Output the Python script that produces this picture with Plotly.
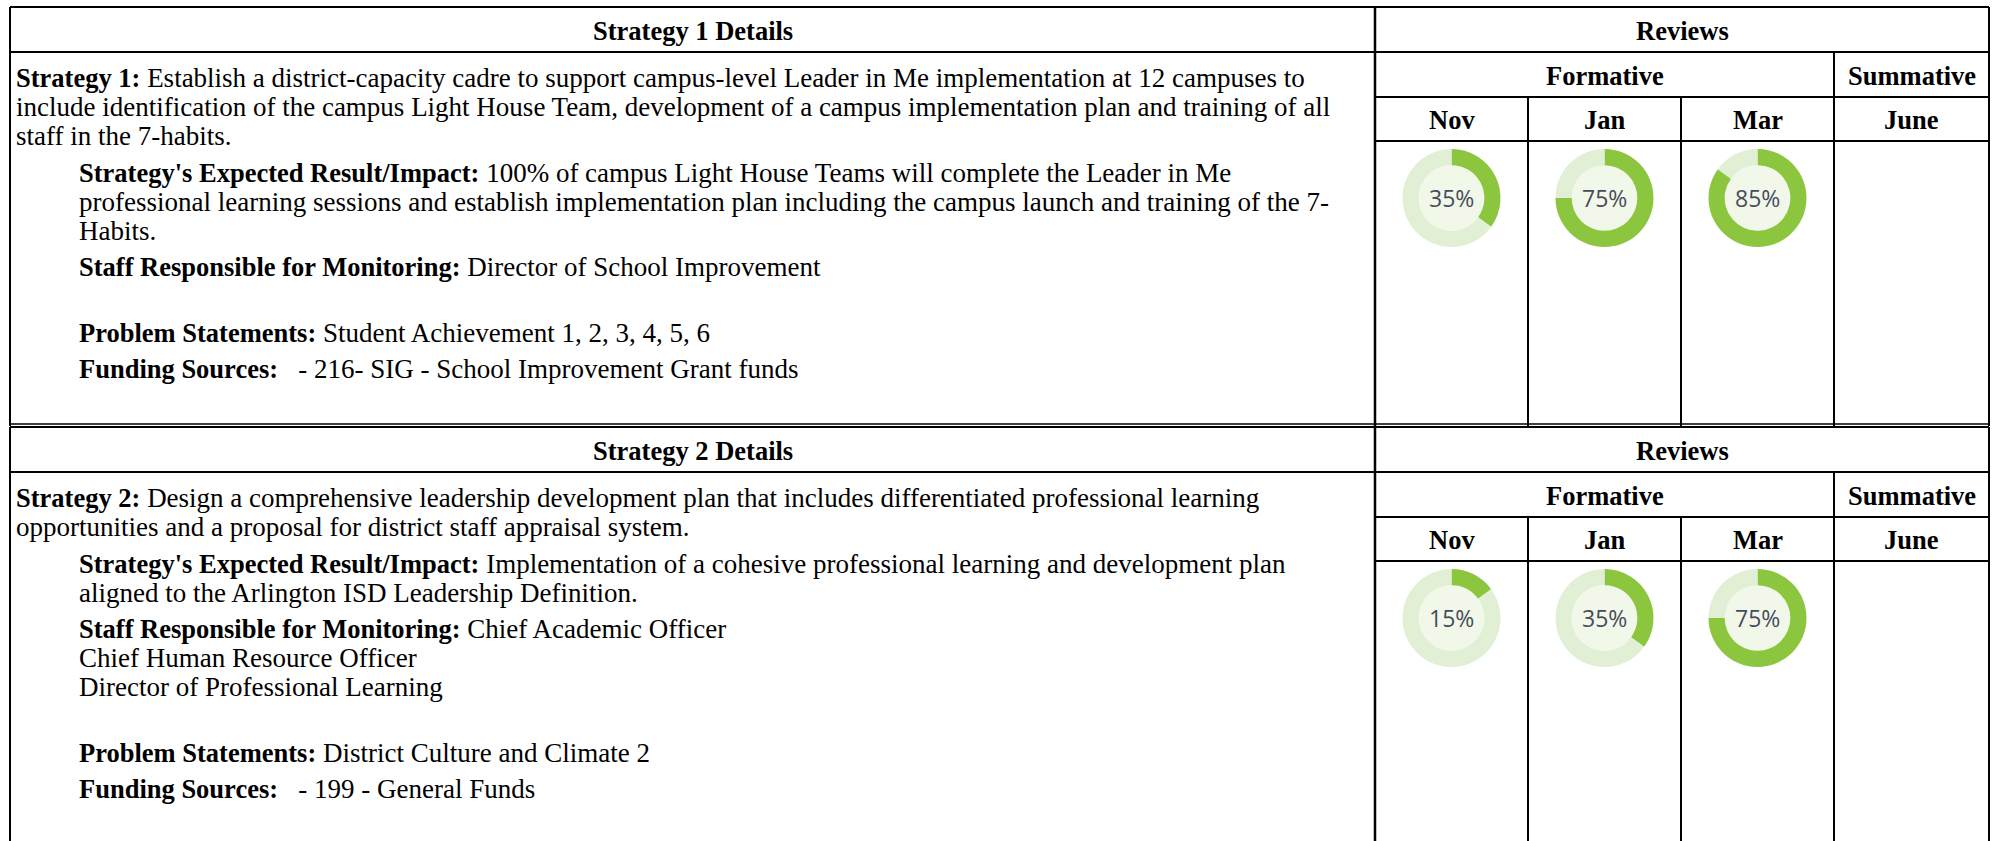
import plotly.graph_objects as go

# ---------------- data ----------------
W, H = 1997, 841

review_months = ["Nov", "Jan", "Mar", "June"]
formative_label = "Formative"
summative_label = "Summative"
reviews_label = "Reviews"

strategy1_title = "Strategy 1 Details"
strategy1_pct = [35, 75, 85]          # Nov, Jan, Mar (June empty)
strategy1_paragraphs = [
    ("Strategy 1:", [
        "Establish a district-capacity cadre to support campus-level Leader in Me implementation at 12 campuses to",
        "include identification of the campus Light House Team, development of a campus implementation plan and training of all",
        "staff in the 7-habits.",
    ]),
    ("Strategy's Expected Result/Impact:", [
        "100% of campus Light House Teams will complete the Leader in Me",
        "professional learning sessions and establish implementation plan including the campus launch and training of the 7-",
        "Habits.",
    ]),
    ("Staff Responsible for Monitoring:", [
        "Director of School Improvement",
        "",
    ]),
    ("Problem Statements:", ["Student Achievement 1, 2, 3, 4, 5, 6"]),
    ("Funding Sources:", ["\u00a0 - 216- SIG - School Improvement Grant funds"]),
]

strategy2_title = "Strategy 2 Details"
strategy2_pct = [15, 35, 75]
strategy2_paragraphs = [
    ("Strategy 2:", [
        "Design a comprehensive leadership development plan that includes differentiated professional learning",
        "opportunities and a proposal for district staff appraisal system.",
    ]),
    ("Strategy's Expected Result/Impact:", [
        "Implementation of a cohesive professional learning and development plan",
        "aligned to the Arlington ISD Leadership Definition.",
    ]),
    ("Staff Responsible for Monitoring:", [
        "Chief Academic Officer",
        "Chief Human Resource Officer",
        "Director of Professional Learning",
        "",
    ]),
    ("Problem Statements:", ["District Culture and Climate 2"]),
    ("Funding Sources:", ["\u00a0 - 199 - General Funds"]),
]

# ---------------- layout constants ----------------
X_LEFT, X_DIV, X_RIGHT = 10, 1375, 1989
COL_X = [1375, 1528, 1681, 1834, 1989]
ROW_H = [45, 45, 44]
BLOCK_TOPS = [7, 427]
BLOCK_BOTTOMS = [426, H + 5]
TEXT_X0, TEXT_X1 = 14, 77
FIRST_OFF, LINE_H, PARA_EXTRA = 26, 29, 7.5
SERIF = "Liberation Serif, Times New Roman, serif"
FS = 27          # regular body text
FS_B = 26.5      # bold text
GREEN, LIGHT, HOLE_FILL = "#8cc63f", "#e1efd4", "#f1f8e9"
R_OUT, HOLE = 49, 0.67

fig = go.Figure()
fig.add_trace(go.Scatter(x=[0, W], y=[0, H], mode="markers",
                         marker=dict(opacity=0), hoverinfo="skip", showlegend=False))

shapes, annots = [], []


def bold(s):
    return f"<b><span style='font-size:{FS_B}px'>{s}</span></b>"


def hline(y, x0, x1, w=2):
    shapes.append(dict(type="line", xref="x", yref="y", x0=x0, x1=x1, y0=y, y1=y,
                       line=dict(color="black", width=w), layer="above"))


def vline(x, y0, y1, w=2):
    shapes.append(dict(type="line", xref="x", yref="y", x0=x, x1=x, y0=y0, y1=y1,
                       line=dict(color="black", width=w), layer="above"))


def text(x, y, s, size=FS, anchor="left", family=SERIF, color="black"):
    annots.append(dict(x=x, y=y, xref="x", yref="y", text=s, showarrow=False,
                       xanchor=anchor, yanchor="middle",
                       font=dict(family=family, size=size, color=color)))


def draw_block(bi, title, paragraphs, pcts):
    top = BLOCK_TOPS[bi]
    bot = BLOCK_BOTTOMS[bi]
    r1 = top + ROW_H[0]
    r2 = r1 + ROW_H[1]
    r3 = r2 + ROW_H[2]
    # grid
    hline(top, X_LEFT, X_RIGHT, 2)
    hline(r1, X_LEFT, X_RIGHT, 2)
    hline(r2, X_DIV, X_RIGHT, 2)
    hline(r3, X_DIV, X_RIGHT, 2)
    vline(X_LEFT, top, bot)
    vline(X_DIV, top, bot, 2.5)
    vline(X_RIGHT, top, bot)
    for cx in COL_X[1:3]:
        vline(cx, r2, bot)
    vline(COL_X[3], r1, bot)
    # headers
    text((X_LEFT + X_DIV) / 2, (top + r1) / 2 + 1, bold(title), anchor="center")
    text((X_DIV + X_RIGHT) / 2, (top + r1) / 2 + 1, bold(reviews_label), anchor="center")
    text((COL_X[0] + COL_X[3]) / 2, (r1 + r2) / 2 + 1, bold(formative_label), anchor="center")
    text((COL_X[3] + COL_X[4]) / 2, (r1 + r2) / 2 + 1, bold(summative_label), anchor="center")
    for i, m in enumerate(review_months):
        text((COL_X[i] + COL_X[i + 1]) / 2, (r2 + r3) / 2 + 1, bold(m), anchor="center")
    # body text
    y = r1 + FIRST_OFF
    first = True
    for pi, (label, lines) in enumerate(paragraphs):
        x0 = TEXT_X0 if pi == 0 else TEXT_X1
        for li, line in enumerate(lines):
            if not first:
                y += LINE_H + (PARA_EXTRA if li == 0 else 0)
            first = False
            s = (bold(label) + " " if li == 0 else "") + line
            if s.strip():
                text(x0, y, s)
    # donuts
    cy = r3 + 57
    for i, p in enumerate(pcts):
        cx = (COL_X[i] + COL_X[i + 1]) / 2
        rin = R_OUT * HOLE
        shapes.append(dict(type="circle", xref="x", yref="y", x0=cx - rin, x1=cx + rin,
                           y0=cy - rin, y1=cy + rin, fillcolor=HOLE_FILL,
                           line=dict(width=0), layer="below"))
        fig.add_trace(go.Pie(values=[p, 100 - p], marker=dict(colors=[GREEN, LIGHT], line=dict(width=0)),
                             hole=HOLE, sort=False, direction="clockwise", rotation=0,
                             textinfo="none", hoverinfo="skip", showlegend=False,
                             domain=dict(x=[(cx - R_OUT) / W, (cx + R_OUT) / W],
                                         y=[1 - (cy + R_OUT) / H, 1 - (cy - R_OUT) / H])))
        text(cx, cy, f"{p}%", size=23, anchor="center", family="Open Sans, sans-serif", color="#474c5c")


draw_block(0, strategy1_title, strategy1_paragraphs, strategy1_pct)
draw_block(1, strategy2_title, strategy2_paragraphs, strategy2_pct)
# double line between blocks
hline(BLOCK_BOTTOMS[0] - 2, X_LEFT, X_RIGHT, 1.5)

fig.update_layout(
    width=W, height=H, margin=dict(l=0, r=0, t=0, b=0),
    paper_bgcolor="white", plot_bgcolor="white",
    xaxis=dict(range=[0, W], visible=False, fixedrange=True),
    yaxis=dict(range=[H, 0], visible=False, fixedrange=True),
    shapes=shapes, annotations=annots, showlegend=False,
)

fig.write_html("out.html", config={"displayModeBar": False},
               post_script="document.body.style.margin='0';document.body.style.overflow='hidden';")
